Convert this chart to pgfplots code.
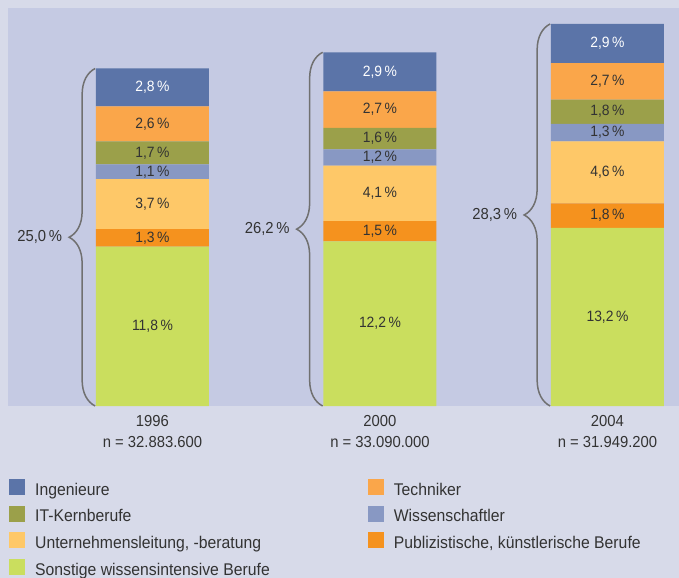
\documentclass[border=0pt]{standalone}
\usepackage{pgfplots}
\pgfplotsset{compat=1.18}
\usepackage{pgfplotstable}
\usepackage{fontspec}
\setmainfont{Liberation Sans}[FakeStretch=0.93]
\usetikzlibrary{decorations.pathreplacing}

\definecolor{outerbg}{HTML}{D7DAE9}
\definecolor{plotbg}{HTML}{C5CAE3}
\definecolor{cIng}{HTML}{5B74A8}
\definecolor{cTech}{HTML}{FAA64A}
\definecolor{cIT}{HTML}{9BA04A}
\definecolor{cWiss}{HTML}{8898C3}
\definecolor{cUnt}{HTML}{FEC868}
\definecolor{cPub}{HTML}{F5921E}
\definecolor{cSon}{HTML}{CADE5E}
\definecolor{txt}{HTML}{333333}
\definecolor{bracegray}{HTML}{707070}

% shares in percent, bottom segment first
\pgfplotstableread{
x  son   pub  unt  wiss  it   tech  ing
0  11.8  1.3  3.7  1.1   1.7  2.6   2.8
1  12.2  1.5  4.1  1.2   1.6  2.7   2.9
2  13.2  1.8  4.6  1.3   1.8  2.7   2.9
}\shares

\begin{document}
\begin{tikzpicture}[font=\fontsize{16}{21}\selectfont, text=txt]
\useasboundingbox (0,0) rectangle (679bp,578bp);
\fill[outerbg] (0,0) rectangle (679bp,578bp);
\begin{axis}[
  at={(8bp,172bp)}, anchor=south west,
  x=227.5bp, y=13.5bp,
  xmin=-0.635, xmax=2.315, ymin=0, ymax=29.48,
  clip=false,
  axis background/.style={fill=plotbg},
  axis line style={draw=none},
  ybar stacked, bar width=113bp,
  xtick={0,1,2},
  xticklabels={{1996\\n = 32.883.600},{2000\\n = 33.090.000},{2004\\n = 31.949.200}},
  xticklabel style={align=center, font=\fontsize{16}{21}\selectfont, text=txt, yshift=-6bp},
  major tick length=0pt, ytick=\empty,
  point meta=rawy,
  nodes near coords={\pgfmathprintnumber[fixed,fixed zerofill,precision=1,use comma,assume math mode=true]{\pgfplotspointmeta}\,\%},
  every node near coord/.append style={anchor=center, font=\fontsize{15}{18}\selectfont, text=txt},
  legend columns=2, reverse legend, legend cell align=left,
  legend style={at={(axis description cs:0,-0.177)}, anchor=north west, xshift=-2bp,
    draw=none, fill=none, font=\fontsize{17}{19}\selectfont, text=txt,
    row sep=7bp,
    /tikz/every odd column/.append style={column sep=8bp},
    /tikz/every even column/.append style={column sep=96bp}},
  legend image code/.code={\fill[#1] (0bp,-5bp) rectangle (16bp,11bp);},
]
\addplot[fill=cSon, draw=none] table[x=x,y=son]{\shares};
\addlegendentry{Sonstige wissensintensive Berufe}
\addplot[fill=cPub, draw=none] table[x=x,y=pub]{\shares};
\addlegendentry{Publizistische, künstlerische Berufe}
\addplot[fill=cUnt, draw=none] table[x=x,y=unt]{\shares};
\addlegendentry{Unternehmensleitung, -beratung}
\addplot[fill=cWiss, draw=none] table[x=x,y=wiss]{\shares};
\addlegendentry{Wissenschaftler}
\addplot[fill=cIT, draw=none] table[x=x,y=it]{\shares};
\addlegendentry{IT-Kernberufe}
\addplot[fill=cTech, draw=none] table[x=x,y=tech]{\shares};
\addlegendentry{Techniker}
\addplot[fill=cIng, draw=none, every node near coord/.append style={text=white}] table[x=x,y=ing]{\shares};
\addlegendentry{Ingenieure}

\draw[bracegray, line width=1.5bp, decorate, decoration={brace, amplitude=26bp}]
  (axis cs:-0.252,0) -- node[midway, anchor=east, xshift=-29bp, text=txt]{25,0\,\%} (axis cs:-0.252,25.0);
\draw[bracegray, line width=1.5bp, decorate, decoration={brace, amplitude=26bp}]
  (axis cs:0.748,0) -- node[midway, anchor=east, xshift=-29bp, text=txt]{26,2\,\%} (axis cs:0.748,26.2);
\draw[bracegray, line width=1.5bp, decorate, decoration={brace, amplitude=26bp}]
  (axis cs:1.748,0) -- node[midway, anchor=east, xshift=-29bp, text=txt]{28,3\,\%} (axis cs:1.748,28.3);
\end{axis}
\end{tikzpicture}
\end{document}
